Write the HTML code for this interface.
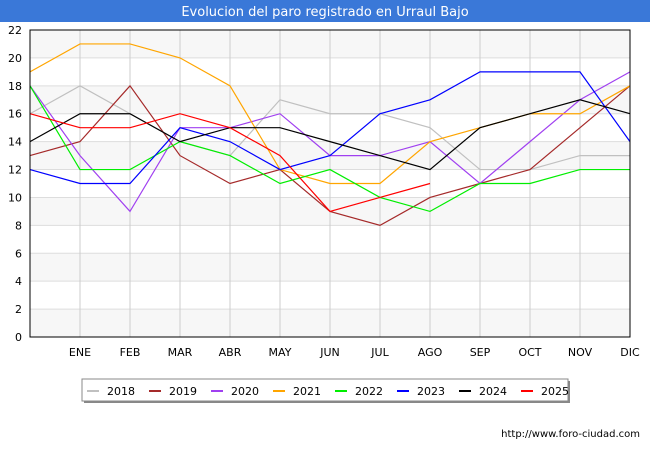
<!DOCTYPE html>
<html><head><meta charset="utf-8"><style>
body{margin:0;background:#fff;font-family:"DejaVu Sans","Liberation Sans",sans-serif;}
svg text{font-family:"DejaVu Sans","Liberation Sans",sans-serif;}
</style></head><body>
<svg id="c" width="650" height="450" xmlns="http://www.w3.org/2000/svg">
<rect x="0" y="0" width="650" height="450" fill="#fff"/>
<rect x="0" y="0" width="650" height="22" fill="#3a78d8"/>
<text x="325" y="16" text-anchor="middle" font-size="13" fill="#fff">Evolucion del paro registrado en Urraul Bajo</text>
<g id="grid"></g><g id="lines"></g>
<rect x="30" y="30" width="600" height="307" fill="none" stroke="#000" stroke-width="1"/>
<g id="legend"></g>
<text x="640" y="437" text-anchor="end" font-size="10" fill="#000">http://www.foro-ciudad.com</text>
</svg>
<script>
const months=["","ENE","FEB","MAR","ABR","MAY","JUN","JUL","AGO","SEP","OCT","NOV","DIC"];
const yTicks=[0,2,4,6,8,10,12,14,16,18,20,22];
const years=["2018","2019","2020","2021","2022","2023","2024","2025"];
const colors=["#c0c0c0","#a52a2a","#a040f0","#ffa500","#00ee00","#0000ff","#000000","#ff0000"];
const s2018=[16,18,16,14,13,17,16,16,15,12,12,13,13];
const s2019=[13,14,18,13,11,12,9,8,10,11,12,15,18];
const s2020=[18,13,9,15,15,16,13,13,14,11,14,17,19];
const s2021=[19,21,21,20,18,12,11,11,14,15,16,16,18];
const s2022=[18,12,12,14,13,11,12,10,9,11,11,12,12];
const s2023=[12,11,11,15,14,12,13,16,17,19,19,19,14];
const s2024=[14,16,16,14,15,15,14,13,12,15,16,17,16];
const s2025=[16,15,15,16,15,13,9,10,11];
const series=[s2018,s2019,s2020,s2021,s2022,s2023,s2024,s2025];
const NS="http://www.w3.org/2000/svg";
const X=i=>30+i*50, Y=v=>337-v*(307/22);
function mk(t,a,p){const e=document.createElementNS(NS,t);for(const k in a)e.setAttribute(k,a[k]);p.appendChild(e);return e;}
const g=document.getElementById('grid');
for(let i=0;i<yTicks.length-1;i++){
  if(i%2==0){const r=mk('rect',{x:30,y:Y(yTicks[i+1]),width:600,height:Y(yTicks[i])-Y(yTicks[i+1]),fill:'#f7f7f7'},g);
  
  }
}
yTicks.forEach(v=>{
  const l=mk('line',{x1:30,x2:630,y1:Y(v),y2:Y(v),stroke:'#ddd'},g);
  
  
  const t=mk('text',{x:22,y:Y(v)+4,'text-anchor':'end','font-size':11},g);t.textContent=v;
  
  
});
months.forEach((m,i)=>{
  if(i>0){const l=mk('line',{x1:X(i),x2:X(i),y1:30,y2:337,stroke:'#ccc'},g);
  
  }
  const t=mk('text',{x:X(i),y:356,'text-anchor':'middle','font-size':11},g);t.textContent=m;
  
  
});
const L=document.getElementById('lines');
series.forEach((s,k)=>{
  const p=mk('polyline',{points:s.map((v,i)=>X(i)+','+Y(v)).join(' '),fill:'none',stroke:colors[k],'stroke-width':1.2},L);
  
  
});
const lg=document.getElementById('legend');
mk('rect',{x:84,y:381,width:486,height:22,fill:'#888'},lg);
mk('rect',{x:82,y:379,width:486,height:22,fill:'#fff',stroke:'#888'},lg);
years.forEach((y,k)=>{
  const x0=87+k*62;
  const l=mk('line',{x1:x0,x2:x0+12,y1:391,y2:391,stroke:colors[k],'stroke-width':2},lg);
  
  
  const t=mk('text',{x:x0+20,y:395,'font-size':11},lg);t.textContent=y;
  
  
});
</script>
</body></html>
